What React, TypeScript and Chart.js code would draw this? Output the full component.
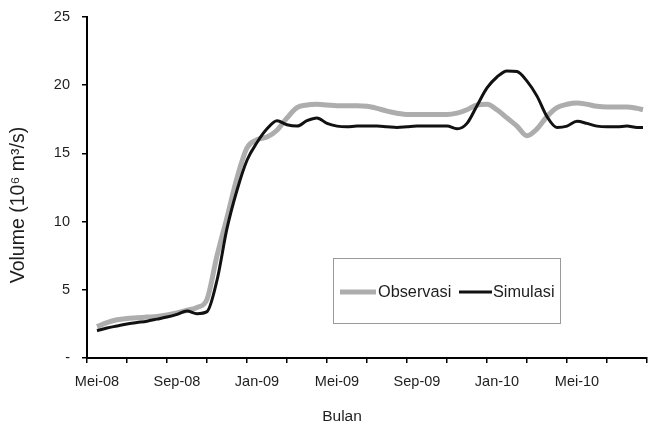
import React, { useEffect, useRef } from 'react';
import { Chart, registerables } from 'chart.js';

Chart.register(...registerables);

// x positions in months, 0 = Mei-08 (category centre)
const monthPos = [
  0, 0.5, 1, 1.5, 2, 2.5, 3, 3.5, 4, 4.5, 5, 5.5, 6, 6.5, 7, 7.5, 8, 8.5, 9, 9.5,
  10, 10.5, 11, 11.5, 12, 12.5, 13, 13.5, 14, 14.5, 15, 15.5, 16, 16.5, 17, 17.5, 18, 18.5, 19, 19.5,
  20, 20.5, 21, 21.5, 22, 22.5, 23, 23.5, 24, 24.5, 25, 25.5, 26, 26.5, 27, 27.3,
];

const observasi = [
  2.3, 2.6, 2.8, 2.9, 2.95, 3.0, 3.05, 3.15, 3.3, 3.5, 3.7, 4.3, 7.5, 10.3, 13.2, 15.4, 16.0, 16.2, 16.7, 17.6,
  18.35, 18.55, 18.6, 18.55, 18.5, 18.5, 18.5, 18.45, 18.3, 18.1, 17.95, 17.85, 17.85, 17.85, 17.85, 17.85, 17.95, 18.2, 18.55, 18.6,
  18.2, 17.6, 17.0, 16.3, 16.8, 17.7, 18.35, 18.6, 18.7, 18.6, 18.45, 18.4, 18.4, 18.4, 18.3, 18.2,
];

const simulasi = [
  2.0, 2.2, 2.35, 2.5, 2.6, 2.7, 2.85, 3.0, 3.2, 3.45, 3.25, 3.4, 5.7, 9.5, 12.3, 14.5, 15.8, 16.8, 17.4, 17.1,
  17.0, 17.4, 17.6, 17.2, 17.0, 16.95, 17.0, 17.0, 17.0, 16.95, 16.9, 16.95, 17.0, 17.0, 17.0, 17.0, 16.8, 17.2, 18.5, 19.8,
  20.6, 21.05, 21.0, 20.3, 19.2, 17.7, 16.9, 17.0, 17.35, 17.2, 17.0, 16.95, 16.95, 17.0, 16.9, 16.9,
];

const seriesNames = ['Observasi', 'Simulasi'];
const monthLabels = ['Mei-08', 'Sep-08', 'Jan-09', 'Mei-09', 'Sep-09', 'Jan-10', 'Mei-10'];
const xTickValues = [-0.5, 1.5, 3.5, 5.5, 7.5, 9.5, 11.5, 13.5, 15.5, 17.5, 19.5, 21.5, 23.5, 25.5, 27.5];
const yTickValues = [0, 5, 10, 15, 20, 25];
const yTickLabels = ['-', '5', '10', '15', '20', '25'];
const xTitle = 'Bulan';
const yTitle = 'Volume (10\u2076 m\u00B3/s)';

const FONT = "'Liberation Sans', Arial, sans-serif";
const TEXT = '#1e1e1e';

const overlay = {
  id: 'overlay',
  afterDraw(chart: any) {
    const ctx = chart.ctx as CanvasRenderingContext2D;
    ctx.save();
    ctx.fillStyle = TEXT;
    ctx.textAlign = 'center';
    ctx.textBaseline = 'middle';
    ctx.font = `15.5px ${FONT}`;
    ctx.fillText(xTitle, 342, 417);
    ctx.save();
    ctx.translate(19, 205);
    ctx.rotate(-Math.PI / 2);
    ctx.font = `19.5px ${FONT}`;
    ctx.fillText(yTitle, 0, 0);
    ctx.restore();

    // legend
    ctx.strokeStyle = '#9a9a9a';
    ctx.lineWidth = 1;
    ctx.strokeRect(333.5, 258.5, 227, 65);
    const ds = chart.data.datasets;
    const items = [
      { x0: 340, x1: 376, tx: 378 },
      { x0: 459, x1: 492, tx: 493 },
    ];
    const yMid = 292;
    ctx.font = `16.3px ${FONT}`;
    ctx.textAlign = 'left';
    items.forEach((it, i) => {
      ctx.beginPath();
      ctx.strokeStyle = ds[i].borderColor;
      ctx.lineWidth = ds[i].borderWidth;
      ctx.moveTo(it.x0, yMid);
      ctx.lineTo(it.x1, yMid);
      ctx.stroke();
      ctx.fillStyle = TEXT;
      ctx.fillText(ds[i].label, it.tx, yMid + 1);
    });
    ctx.restore();
  },
};

export default function App() {
  const ref = useRef<HTMLCanvasElement>(null);
  useEffect(() => {
    if (!ref.current) return;
    const chart = new Chart(ref.current, {
      type: 'line',
      data: {
        datasets: [
          {
            label: seriesNames[0],
            data: monthPos.map((x, i) => ({ x, y: observasi[i] })),
            borderColor: '#adadad',
            borderWidth: 5,
            pointRadius: 0,
            cubicInterpolationMode: 'monotone',
            order: 2,
          },
          {
            label: seriesNames[1],
            data: monthPos.map((x, i) => ({ x, y: simulasi[i] })),
            borderColor: '#111111',
            borderWidth: 3,
            pointRadius: 0,
            cubicInterpolationMode: 'monotone',
            order: 1,
          },
        ],
      },
      options: {
        animation: false,
        responsive: true,
        maintainAspectRatio: false,
        layout: { padding: { top: 17, right: 2, left: 0, bottom: 0 } },
        plugins: { legend: { display: false }, tooltip: { enabled: false } },
        scales: {
          x: {
            type: 'linear',
            min: -0.5,
            max: 27.5,
            afterBuildTicks: (s: any) => {
              s.ticks = xTickValues.map((v) => ({ value: v }));
            },
            afterFit: (s: any) => {
              s.height = 69;
              s.paddingLeft = 0;
              s.paddingRight = 0;
            },
            grid: { drawOnChartArea: false, drawTicks: true, tickLength: 5, color: '#000', lineWidth: 1.5 },
            border: { display: true, color: '#000', width: 2 },
            ticks: {
              autoSkip: false,
              maxRotation: 0,
              labelOffset: 10,
              padding: 10,
              color: TEXT,
              font: { family: FONT, size: 14.5 },
              callback: (_v: any, i: number) => (i % 2 === 0 && monthLabels[i / 2] ? monthLabels[i / 2] : ''),
            },
          },
          y: {
            type: 'linear',
            min: 0,
            max: 25,
            afterBuildTicks: (s: any) => {
              s.ticks = yTickValues.map((v) => ({ value: v }));
            },
            afterFit: (s: any) => {
              s.width = 87;
              s.paddingTop = 0;
              s.paddingBottom = 0;
            },
            grid: { drawOnChartArea: false, drawTicks: true, tickLength: 5, color: '#000', lineWidth: 1.5 },
            border: { display: true, color: '#000', width: 2 },
            ticks: {
              padding: 12,
              color: TEXT,
              font: { family: FONT, size: 14.5 },
              callback: (_v: any, i: number) => yTickLabels[i],
            },
          },
        },
      },
      plugins: [overlay],
    } as any);
    return () => chart.destroy();
  }, []);
  return (
    <div style={{ position: 'absolute', left: 0, top: 0, width: 649, height: 427, background: '#fff' }}>
      <canvas ref={ref} />
    </div>
  );
}
